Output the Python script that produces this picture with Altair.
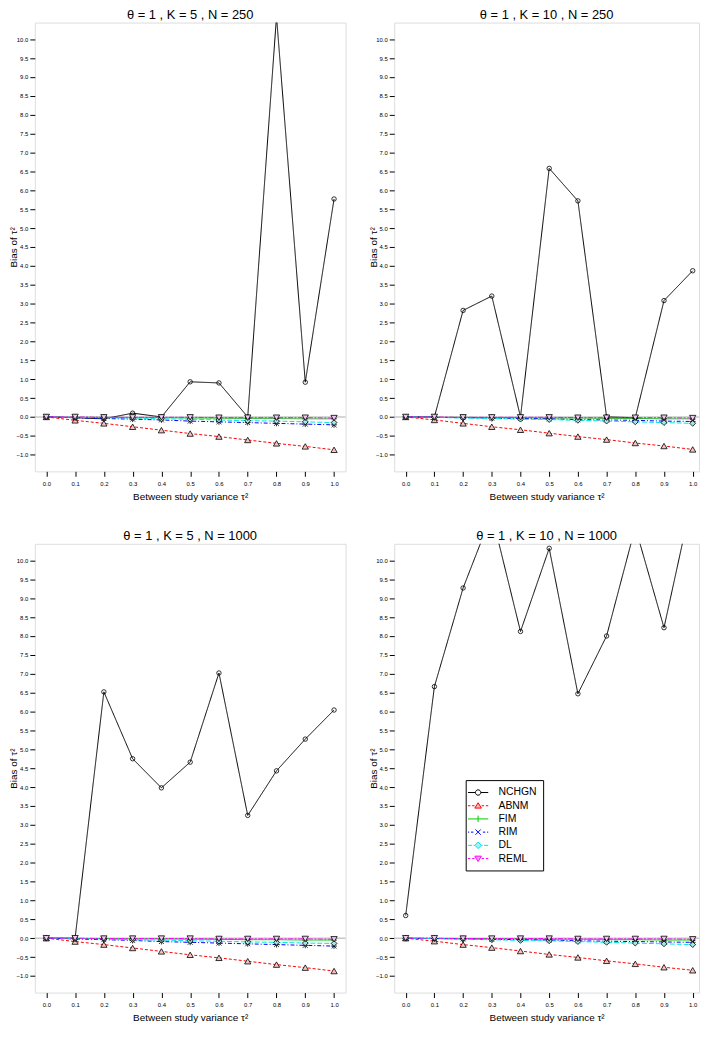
import altair as alt
import pandas as pd

tau2 = [0.0, 0.1, 0.2, 0.3, 0.4, 0.5, 0.6, 0.7, 0.8, 0.9, 1.0]
methods = ["NCHGN", "ABNM", "FIM", "RIM", "DL", "REML"]
y_ticks = [-1.0, -0.5, 0.0, 0.5, 1.0, 1.5, 2.0, 2.5, 3.0, 3.5, 4.0, 4.5, 5.0,
           5.5, 6.0, 6.5, 7.0, 7.5, 8.0, 8.5, 9.0, 9.5, 10.0]

titles = ["θ = 1 , K = 5 , N = 250", "θ = 1 , K = 10 , N = 250",
          "θ = 1 , K = 5 , N = 1000", "θ = 1 , K = 10 , N = 1000"]

# panel 1: K=5, N=250
p1_nchgn = [0.0, -0.02, -0.05, 0.10, 0.0, 0.93, 0.90, 0.0, 10.6, 0.92, 5.77]
p1_abnm = [0.0, -0.09, -0.17, -0.26, -0.35, -0.44, -0.52, -0.61, -0.70, -0.78, -0.87]
p1_fim = [0.0, -0.01, -0.01, -0.02, -0.02, -0.03, -0.03, -0.04, -0.04, -0.05, -0.05]
p1_rim = [0.0, -0.02, -0.04, -0.06, -0.08, -0.11, -0.13, -0.15, -0.17, -0.19, -0.21]
p1_dl = [0.0, -0.01, -0.02, -0.03, -0.05, -0.06, -0.08, -0.10, -0.11, -0.13, -0.15]
p1_reml = [0.0, 0.0, -0.01, -0.01, -0.01, -0.01, -0.02, -0.02, -0.02, -0.02, -0.03]

# panel 2: K=10, N=250
p2_nchgn = [0.0, 0.0, 2.82, 3.20, 0.0, 6.58, 5.72, 0.0, -0.02, 3.08, 3.87]
p2_abnm = [0.0, -0.08, -0.17, -0.26, -0.34, -0.43, -0.52, -0.60, -0.69, -0.77, -0.86]
p2_fim = [0.0, -0.01, -0.01, -0.02, -0.02, -0.03, -0.03, -0.04, -0.04, -0.05, -0.05]
p2_rim = [0.0, -0.01, -0.02, -0.03, -0.04, -0.05, -0.07, -0.08, -0.09, -0.11, -0.12]
p2_dl = [0.0, -0.01, -0.03, -0.04, -0.06, -0.07, -0.09, -0.11, -0.13, -0.15, -0.17]
p2_reml = [0.0, 0.0, -0.01, -0.01, -0.01, -0.01, -0.02, -0.02, -0.02, -0.02, -0.03]

# panel 3: K=5, N=1000
p3_nchgn = [0.0, 0.0, 6.52, 4.75, 3.98, 4.66, 7.02, 3.25, 4.43, 5.27, 6.04]
p3_abnm = [0.0, -0.09, -0.17, -0.26, -0.35, -0.44, -0.52, -0.61, -0.70, -0.78, -0.87]
p3_fim = [0.0, -0.01, -0.01, -0.02, -0.02, -0.03, -0.03, -0.04, -0.04, -0.05, -0.05]
p3_rim = [0.0, -0.02, -0.04, -0.06, -0.09, -0.11, -0.13, -0.15, -0.17, -0.19, -0.21]
p3_dl = [0.0, -0.01, -0.02, -0.04, -0.05, -0.07, -0.08, -0.10, -0.11, -0.13, -0.14]
p3_reml = [0.0, 0.0, -0.01, -0.01, -0.01, -0.01, -0.02, -0.02, -0.02, -0.02, -0.03]

# panel 4: K=10, N=1000
p4_nchgn = [0.60, 6.66, 9.27, 11.22, 8.12, 10.32, 6.47, 8.00, 10.88, 8.22, 11.70]
p4_abnm = [0.0, -0.08, -0.17, -0.25, -0.34, -0.43, -0.51, -0.60, -0.68, -0.77, -0.85]
p4_fim = [0.0, -0.01, -0.01, -0.02, -0.02, -0.03, -0.03, -0.04, -0.04, -0.05, -0.05]
p4_rim = [0.0, -0.01, -0.02, -0.03, -0.04, -0.05, -0.07, -0.08, -0.09, -0.10, -0.11]
p4_dl = [0.0, -0.01, -0.03, -0.04, -0.06, -0.07, -0.09, -0.11, -0.13, -0.15, -0.17]
p4_reml = [0.0, 0.0, -0.01, -0.01, -0.01, -0.01, -0.02, -0.02, -0.02, -0.02, -0.03]

panels = [
    [p1_nchgn, p1_abnm, p1_fim, p1_rim, p1_dl, p1_reml],
    [p2_nchgn, p2_abnm, p2_fim, p2_rim, p2_dl, p2_reml],
    [p3_nchgn, p3_abnm, p3_fim, p3_rim, p3_dl, p3_reml],
    [p4_nchgn, p4_abnm, p4_fim, p4_rim, p4_dl, p4_reml],
]

# ---- styling ----
FONT = "Liberation Sans"
H = 452
widths = [313, 307, 313, 307]
x_right = [1.04, 1.022, 1.04, 1.022]
line_colors = ["#000000", "#FF0000", "#00CD00", "#0000FF", "#00E5E5", "#FF00FF"]
dashes = [[1, 0], [3, 2], [1, 0], [1, 2, 4, 2], [5, 2], [2, 1.5, 5, 1.5]]
legend_fills = ["#FFFFFF", "#F7B8B8", "#00CD00", "#0000FF", "#A8F0F0", "#F5A8F5"]

plus_path = "M-1,0H1M0,-1V1"
star_path = "M-1,-1L1,1M-1,1L1,-1M-1.2,0H1.2M0,-1.2V1.2"
point_styles = {
    "NCHGN": dict(shape="circle", filled=False, stroke="#000000", size=20),
    "ABNM": dict(shape="triangle-up", filled=True, fill="#F7C4C4", stroke="#000000", size=40),
    "FIM": dict(shape=plus_path, filled=False, stroke="#000000", size=32),
    "RIM": dict(shape=star_path, filled=False, stroke="#000000", size=24),
    "DL": dict(shape="diamond", filled=True, fill="#9EEAEA", stroke="#000000", size=34),
    "REML": dict(shape="triangle-down", filled=True, fill="#F3C6F3", stroke="#000000", size=40),
}

# legend symbols: short (dashed) line with the marker in its middle
legend_paths = [
    "M-1.7,0H-0.45M0.45,0H1.7M0.45,0A0.45,0.45 0 1,1 -0.45,0A0.45,0.45 0 1,1 0.45,0",
    "M-1.7,0H-1.3M-1.0,0H-0.6M0.6,0H1.0M1.3,0H1.7M0,-0.5L0.55,0.4H-0.55Z",
    "M-1.7,0H1.7M0,-0.55V0.55",
    "M-1.7,0H-1.5M-1.2,0H-0.8M0.8,0H1.2M1.5,0H1.7M-0.45,-0.45L0.45,0.45M-0.45,0.45L0.45,-0.45",
    "M-1.7,0H-1.0M-0.75,0H-0.55M0.55,0H0.75M1.0,0H1.7M0,-0.55L0.55,0L0,0.55L-0.55,0Z",
    "M-1.7,0H-1.3M-1.0,0H-0.6M0.6,0H1.0M1.3,0H1.7M0,0.5L0.55,-0.4H-0.55Z",
]

yscale = alt.Scale(domain=[-1.44, 10.44], nice=False, zero=False)

xaxis = alt.Axis(values=tau2, format=".1f", title="Between study variance τ²",
                 grid=False, domain=False, tickSize=5, tickColor="black",
                 labelFontSize=6, labelPadding=4, labelColor="black", labelFont=FONT,
                 labelFlush=False,
                 titleFont=FONT, titleFontSize=10, titleFontWeight="normal", titleColor="black",
                 titleY=25, titleBaseline="middle")
yaxis = alt.Axis(values=y_ticks, format=".1f", title="Bias of τ²",
                 grid=False, domain=False, tickSize=5, tickColor="black",
                 labelFontSize=6, labelPadding=2, labelColor="black", labelFont=FONT,
                 labelFlush=False,
                 titleFont=FONT, titleFontSize=10, titleFontWeight="normal", titleColor="black",
                 titleX=-21, titleY=H / 2, titleAngle=270, titleBaseline="middle", titleAlign="center")

leg = alt.Legend(orient="none", legendX=434, legendY=763, title=None,
                 padding=6, strokeColor="black", fillColor="white",
                 labelFont=FONT, labelFontSize=10.5, labelColor="black",
                 labelOffset=14, rowPadding=1.3, symbolOpacity=1,
                 symbolStrokeWidth=1, symbolSize=144)


def make_panel(idx, with_legend=False):
    rows = []
    for m, vals in zip(methods, panels[idx]):
        for t, v in zip(tau2, vals):
            rows.append({"tau2": t, "method": m, "value": v})
    df = pd.DataFrame(rows)
    base = alt.Chart(df)
    xscale = alt.Scale(domain=[-0.04, x_right[idx]], nice=False, zero=False)
    xenc = alt.X("tau2:Q", scale=xscale, axis=xaxis)
    yenc = alt.Y("value:Q", scale=yscale, axis=yaxis)

    zero = alt.Chart(pd.DataFrame({"z": [0.0]})).mark_rule(
        color="#C8C8C8", strokeWidth=1.5).encode(y=alt.Y("z:Q", scale=yscale, axis=yaxis))

    lines = base.mark_line(clip=True, strokeWidth=1).encode(
        x=xenc, y=yenc,
        color=alt.Color("method:N", scale=alt.Scale(domain=methods, range=line_colors), legend=None),
        strokeDash=alt.StrokeDash("method:N", scale=alt.Scale(domain=methods, range=dashes), legend=None),
    )
    layers = [zero, lines]
    for m in methods:
        st = point_styles[m]
        layers.append(
            base.transform_filter(alt.datum.method == m)
            .mark_point(clip=True, strokeWidth=0.8, opacity=1, **st)
            .encode(x=xenc, y=yenc)
        )
    if with_legend:
        # legend-only layer: its points sit outside the x domain and are clipped away
        legdf = pd.DataFrame({"method": methods, "tau2": [3.0] * 6, "value": [0.0] * 6})
        layers.append(
            alt.Chart(legdf).mark_point(clip=True, filled=False, strokeWidth=1).encode(
                x=alt.X("tau2:Q", scale=xscale, axis=xaxis),
                y=alt.Y("value:Q", scale=yscale, axis=yaxis),
                shape=alt.Shape("method:N", scale=alt.Scale(domain=methods, range=legend_paths), legend=leg),
                stroke=alt.Stroke("method:N", scale=alt.Scale(domain=methods, range=line_colors), legend=leg),
                fill=alt.Fill("method:N", scale=alt.Scale(domain=methods, range=legend_fills), legend=leg),
            )
        )
    return alt.layer(*layers).properties(
        width=widths[idx], height=H,
        title=alt.TitleParams(titles[idx], font=FONT, fontSize=13, fontWeight="normal",
                              color="black", offset=1, anchor="middle"),
    )


res = dict(color="independent", strokeDash="independent", x="independent")
chart = alt.concat(
    make_panel(0), make_panel(1), make_panel(2), make_panel(3, True),
    columns=2, spacing={"row": 73, "column": 49}, bounds="flush",
).resolve_scale(**res).properties(
    padding={"left": 0, "top": -4, "right": 0, "bottom": 0}
).configure_view(stroke="black", strokeWidth=1).configure(background="white")

chart.save("out.html", embed_options={"renderer": "svg", "actions": False})
